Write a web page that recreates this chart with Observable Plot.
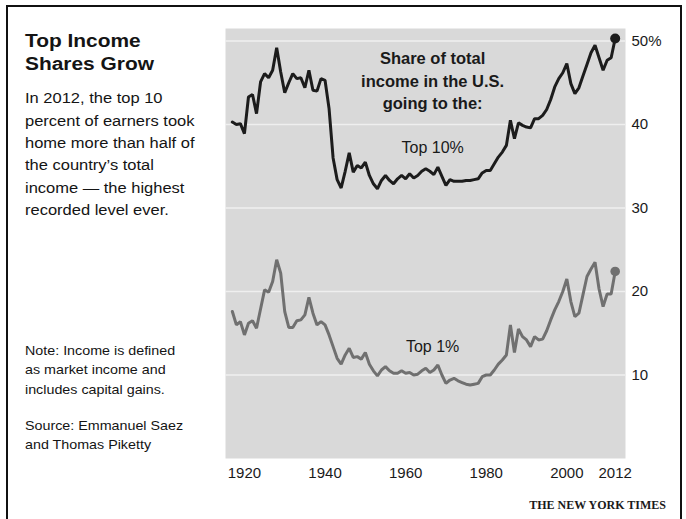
<!DOCTYPE html>
<html>
<head>
<meta charset="utf-8">
<script src="https://cdn.jsdelivr.net/npm/d3@7"></script>
<script src="https://cdn.jsdelivr.net/npm/@observablehq/plot@0.6"></script>
<style>
  html, body { margin: 0; padding: 0; background: #fff; }
  #wrap { position: relative; width: 686px; height: 519px; overflow: hidden; background: #fff; }
  #wrap > svg { position: absolute; left: 0; top: 0; }
  #border { position: absolute; left: 6px; top: 5px; width: 672px; height: 600px; border: 2px solid #111; box-sizing: content-box; }
</style>
</head>
<body>
<div id="wrap"><div id="border"></div></div>
<script>
// ---- Data ----
const years = [1917,1918,1919,1920,1921,1922,1923,1924,1925,1926,1927,1928,1929,1930,1931,1932,1933,1934,1935,1936,1937,1938,1939,1940,1941,1942,1943,1944,1945,1946,1947,1948,1949,1950,1951,1952,1953,1954,1955,1956,1957,1958,1959,1960,1961,1962,1963,1964,1965,1966,1967,1968,1969,1970,1971,1972,1973,1974,1975,1976,1977,1978,1979,1980,1981,1982,1983,1984,1985,1986,1987,1988,1989,1990,1991,1992,1993,1994,1995,1996,1997,1998,1999,2000,2001,2002,2003,2004,2005,2006,2007,2008,2009,2010,2011,2012];

const top10 = [40.3,40.0,40.1,38.9,43.3,43.6,41.3,45.1,46.1,45.6,46.5,49.2,46.3,43.8,45.0,46.1,45.5,45.6,44.4,46.5,44.1,44.0,45.5,45.3,41.9,36.0,33.4,32.4,34.4,36.6,34.3,35.1,34.8,35.5,33.9,32.9,32.3,33.3,33.9,33.3,32.9,33.5,33.9,33.5,34.1,33.6,33.9,34.4,34.7,34.4,34.0,34.9,33.8,32.7,33.4,33.2,33.2,33.2,33.3,33.3,33.4,33.5,34.2,34.5,34.5,35.3,36.1,36.7,37.5,40.5,38.3,40.2,39.9,39.7,39.6,40.7,40.7,41.1,41.8,43.0,44.5,45.5,46.2,47.3,44.9,43.7,44.4,45.8,47.2,48.6,49.5,48.0,46.5,47.7,48.0,50.3];

const top1 = [17.6,16.0,16.4,14.8,16.2,16.5,15.6,17.9,20.2,19.9,21.2,23.8,22.2,17.6,15.7,15.7,16.5,16.6,17.2,19.3,17.4,16.0,16.4,16.0,14.8,13.4,12.0,11.3,12.4,13.2,12.1,12.2,11.9,12.7,11.3,10.5,9.9,10.6,11.0,10.5,10.2,10.2,10.5,10.2,10.3,10.0,10.1,10.5,10.8,10.3,10.6,11.2,10.0,9.0,9.4,9.6,9.3,9.1,8.9,8.8,8.9,9.0,9.8,10.0,10.0,10.6,11.3,11.8,12.4,16.0,12.7,15.5,14.6,14.2,13.4,14.6,14.2,14.3,15.3,16.6,17.8,18.8,20.0,21.5,18.8,17.0,17.4,19.6,21.8,22.7,23.5,20.3,18.2,19.7,19.7,22.4];

const yTicks = [10, 20, 30, 40, 50];
const xTicks = [1920, 1940, 1960, 1980, 2000, 2012];

const headerText = "Share of total\nincome in the U.S.\ngoing to the:";
const seriesLabels = ["Top 10%", "Top 1%"];
const labelYear = 1966.7;
const headerValue = 45.4;
const top10LabelValue = 37.2;
const top1LabelValue = 13.4;

const titleLines = ["Top Income", "Shares Grow"];
const introLines = ["In 2012, the top 10", "percent of earners took", "home more than half of", "the country\u2019s total", "income \u2014 the highest", "recorded level ever."];
const noteLines = ["Note: Income is defined", "as market income and", "includes capital gains."];
const sourceLines = ["Source: Emmanuel Saez", "and Thomas Piketty"];
const credit = "THE NEW YORK TIMES";

// ---- Build tables ----
const t10 = years.map((y, i) => ({year: y, value: top10[i]}));
const t1 = years.map((y, i) => ({year: y, value: top1[i]}));
const last10 = [t10[t10.length - 1]];
const last1 = [t1[t1.length - 1]];

const font = "'Liberation Sans', Arial, Helvetica, sans-serif";

const chart = Plot.plot({
  width: 686,
  height: 519,
  marginLeft: 225,
  marginRight: 61,
  marginTop: 28,
  marginBottom: 61,
  style: {fontFamily: font, background: "transparent", color: "#1a1a1a"},
  x: {domain: [1915.3, 2014.56]},
  y: {domain: [0, 51.5]},
  marks: [
    Plot.frame({fill: "#d9d9d9", stroke: "none"}),
    Plot.gridY(yTicks, {stroke: "#efefef", strokeOpacity: 1, strokeWidth: 1.6}),
    Plot.axisY(yTicks, {anchor: "right", tickSize: 0, tickPadding: 6, fontSize: 15, fill: "#1a1a1a",
      tickFormat: d => d === 50 ? "50%" : String(d), label: null}),
    Plot.axisX(xTicks, {anchor: "bottom", tickSize: 0, tickPadding: 9, fontSize: 15, fill: "#1a1a1a",
      tickFormat: d => String(d), label: null}),
    Plot.line(t1, {x: "year", y: "value", stroke: "#707070", strokeWidth: 3, strokeLinejoin: "miter"}),
    Plot.line(t10, {x: "year", y: "value", stroke: "#1c1c1c", strokeWidth: 3, strokeLinejoin: "miter"}),
    Plot.dot(last1, {x: "year", y: "value", r: 4.8, fill: "#707070"}),
    Plot.dot(last10, {x: "year", y: "value", r: 5, fill: "#1c1c1c"}),
    Plot.text([headerText], {x: () => labelYear, y: () => headerValue, text: d => d, fontSize: 16.5,
      fontWeight: "bold", lineHeight: 1.35, fill: "#1a1a1a", textAnchor: "middle"}),
    Plot.text([seriesLabels[0]], {x: () => labelYear, y: () => top10LabelValue, text: d => d, fontSize: 16,
      fill: "#1a1a1a", textAnchor: "middle"}),
    Plot.text([seriesLabels[1]], {x: () => labelYear, y: () => top1LabelValue, text: d => d, fontSize: 16,
      fill: "#1a1a1a", textAnchor: "middle"})
  ]
});
document.getElementById("wrap").appendChild(chart);

// ---- Side panel text ----
const svg = d3.select("#wrap").append("svg")
  .attr("width", 686).attr("height", 519)
  .style("font-family", font);

const g = svg.append("g").attr("transform", "translate(25,0) scale(1.1,1)");

function block(lines, y0, step, size, weight) {
  lines.forEach((t, i) => {
    g.append("text").attr("x", 0).attr("y", y0 + i * step)
      .attr("font-size", size).attr("font-weight", weight)
      .attr("fill", "#141414").text(t);
  });
}
block(titleLines, 46.7, 23.5, 19, "bold");
block(introLines, 103.5, 22.3, 15, "normal");
block(noteLines, 355, 19.5, 13, "normal");
block(sourceLines, 430, 19.5, 13, "normal");

svg.append("text").attr("x", 666).attr("y", 509).attr("text-anchor", "end")
  .attr("font-family", "'Liberation Serif', 'Times New Roman', serif")
  .attr("font-weight", "bold").attr("font-size", 12).attr("fill", "#1a1a1a")
  .text(credit);
</script>
</body>
</html>
